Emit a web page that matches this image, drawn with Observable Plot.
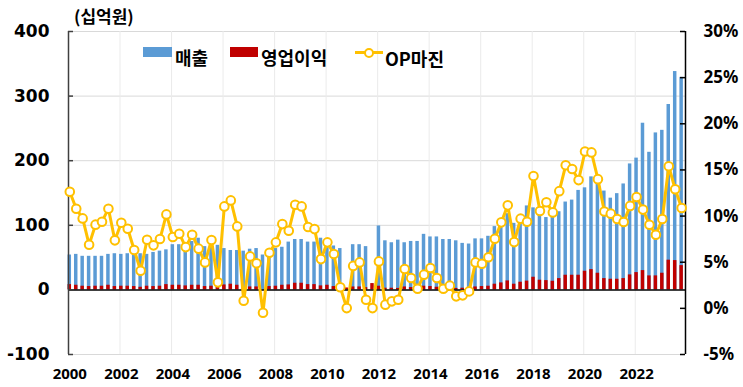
<!DOCTYPE html>
<html><head><meta charset="utf-8">
<script src="https://cdn.jsdelivr.net/npm/d3@7"></script>
<script src="https://cdn.jsdelivr.net/npm/@observablehq/plot@0.6"></script>
<style>
body{margin:0;background:#fff;}
#wrap{position:relative;width:743px;height:387px;font-family:"Noto Sans CJK KR","Noto Sans",sans-serif;}
.ov{position:absolute;white-space:nowrap;font-weight:bold;color:#000;line-height:1;}
.sw{position:absolute;}
</style></head><body>
<div id="wrap"></div>
<script>
// Quarterly data 2000Q1 .. 2023Q4
const sales = [
  54, 55, 52, 52,   52, 52, 55, 56,   55, 56, 55, 56,   55, 58, 60, 62,
  70, 70, 68, 75,   80, 67, 70, 69,   64, 61, 61, 60,   63, 64, 54, 60,
  64, 66, 74, 78,   78, 74, 74, 80,   78, 68, 64, null, 70, 70, 67, null,
  99, 76, 73, 77,   73, 75, 75, 86,   82, 82, 78, 78,   76, 72, 71, 79,
  79, 83, 98, 108,  118, 103, 113, 130, 127, 122, 112, 118, 121, 136, 139, 154,
  158, 175, 165, 153, 142, 149, 164, 195, 204, 258, 213, 243, 247, 287, 338, 329
];
const opIncome = [
  8.2, 7.2, 5.7, 5.2,  5.7, 5.7, 7.2, 5.2,  5.7, 5.7, 5.2, 4.1,  5.7, 5.2, 5.7, 8.2,
  7.2, 7.2, 6.2, 7.2,  7.2, 5.2, 5.7, 4.1,  7.7, 8.8, 7.2, 1.0,  4.6, 4.6, -0.3, 5.2,
  5.7, 7.2, 7.7, 10.3, 10.3, 8.2, 8.2, 6.2, 7.2, 5.2, 4.6, 3.0,  4.6, 4.6, 3.5, 9.8,
  5.7, 2.6, 2.6, 2.3,  4.6, 3.6, 4.6, 5.7,  5.2, 4.1, 3.6, 3.1,  2.3, 2.6, 3.1, 4.6,
  5.2, 5.7, 8.8, 10.8, 13.9, 8.8, 11.9, 13.6, 19.6, 15.0, 14.4, 13.4, 17.5, 22.7, 22.7, 22.7,
  28.9, 31.4, 25.8, 17.5, 16.5, 16.5, 17.5, 23.2, 26.8, 29.9, 21.7, 21.7, 25.8, 46.0, 45.4, 37.6
];
const opMargin = [
  12.64, 10.80, 9.75, 6.90,  9.07, 9.39, 10.80, 7.37,  9.28, 8.63, 6.32, 4.08,
  7.44, 6.83, 7.51, 10.18,   7.73, 8.09, 6.64, 7.98,   6.47, 4.98, 7.40, 2.82,
  11.05, 11.70, 8.88, 0.83,  5.63, 4.88, -0.47, 6.03,  7.15, 9.13, 8.41, 11.23,
  11.05, 8.81, 8.59, 5.34,   7.15, 5.89, 2.28, 0.03,   4.60, 4.98, 0.94, 0.03,
  5.09, 0.40, 0.76, 0.94,    4.26, 3.29, 2.13, 3.65,   4.37, 3.29, 2.13, 2.46,
  1.30, 1.41, 1.84, 4.98,    4.84, 5.53, 7.55, 9.32,   11.16, 7.18, 9.72, 9.39,
  14.35, 10.55, 11.50, 10.40, 12.70, 15.50, 15.10, 13.90, 17.00, 16.90, 14.00, 10.50,
  10.26, 9.68, 9.35, 11.10,  12.06, 10.70, 9.06, 7.98,  9.68, 15.40, 12.90, 10.87
];
const yearLabels = [2000, 2002, 2004, 2006, 2008, 2010, 2012, 2014, 2016, 2018, 2020, 2022];
const leftTicks = [-100, 0, 100, 200, 300, 400];
const rightTicks = [-5, 0, 5, 10, 15, 20, 25, 30];
const unitLabel = "(십억원)";
const seriesNames = ["매출", "영업이익", "OP마진"];

const toLeft = p => (p + 5) * 500 / 35 - 100;
const fromLeft = v => (v + 100) * 35 / 500 - 5;
const rows = sales.map((s, i) => ({i, sales: s, op: opIncome[i], margin: opMargin[i]}));
const X0 = -0.2, X1 = 95.6;
const tickLen = 5 / 6.44;
const hw = 0.27;

const chart = Plot.plot({
  width: 743, height: 387,
  marginLeft: 68, marginRight: 58, marginTop: 31, marginBottom: 33,
  x: {domain: [X0, X1]},
  y: {domain: [-100, 400]},
  style: {fontFamily: "'Noto Sans', sans-serif", background: "white", color: "black"},
  marks: [
    Plot.ruleY([-100, 100, 200, 300, 400], {stroke: "#d9d9d9", strokeWidth: 1}),
    Plot.ruleX(yearLabels.slice(1), {x: y => (y - 2000) * 4 + X0, stroke: "#ebebeb", strokeWidth: 1}),
    Plot.rect(rows.filter(d => d.sales != null), {x1: d => d.i - hw, x2: d => d.i + hw, y1: 0, y2: "sales", fill: "#5B9BD5"}),
    Plot.rect(rows, {x1: d => d.i - hw, x2: d => d.i + hw, y1: 0, y2: "op", fill: "#C00000"}),
    Plot.ruleY([0], {stroke: "#000", strokeWidth: 1.5}),
    Plot.ruleX([X0], {stroke: "#404040", strokeWidth: 1.5}),
    Plot.ruleX([X1], {stroke: "#000", strokeWidth: 1.5}),
    Plot.ruleY(leftTicks, {x1: X0, x2: X0 + tickLen, stroke: "#404040", strokeWidth: 1.5}),
    Plot.ruleY(rightTicks.map(toLeft), {x1: X1 - tickLen, x2: X1, stroke: "#000", strokeWidth: 1.5}),
    Plot.line(rows, {x: "i", y: d => toLeft(d.margin), stroke: "#FFC000", strokeWidth: 3, strokeLinejoin: "round"}),
    Plot.dot(rows, {x: "i", y: d => toLeft(d.margin), r: 4.3, fill: "white", stroke: "#FFC000", strokeWidth: 2}),
    Plot.axisY({anchor: "left", ticks: leftTicks, tickFormat: d => String(d), tickSize: 0, tickPadding: 19,
      fontSize: 17, fontWeight: "bold", fontFamily: "DejaVu Sans", label: null}),
    Plot.axisY({anchor: "right", ticks: rightTicks.map(toLeft), tickFormat: v => Math.round(fromLeft(v)) + "%",
      tickSize: 0, tickPadding: 18, fontSize: 17, fontWeight: "bold", label: null}),
    Plot.axisX({ticks: yearLabels.map(y => (y - 2000) * 4), tickFormat: i => String(2000 + i / 4),
      tickSize: 0, tickPadding: 14, fontSize: 15, fontWeight: "bold", label: null})
  ]
});
const wrap = document.getElementById("wrap");
wrap.appendChild(chart);

function addText(txt, left, top, size) {
  const d = document.createElement("div");
  d.className = "ov"; d.textContent = txt;
  d.style.left = left + "px"; d.style.top = top + "px"; d.style.fontSize = size + "px";
  wrap.appendChild(d); return d;
}
function addBox(left, top, w, h, bg) {
  const d = document.createElement("div");
  d.className = "sw"; d.style.left = left + "px"; d.style.top = top + "px";
  d.style.width = w + "px"; d.style.height = h + "px"; d.style.background = bg;
  wrap.appendChild(d); return d;
}
addText(unitLabel, 74, 7, 17);
addBox(143, 47, 29, 10, "#5B9BD5");
addText(seriesNames[0], 175, 48, 18);
addBox(230, 47, 28, 10, "#C00000");
addText(seriesNames[1], 261, 48, 18);
addBox(355, 51, 28, 3, "#FFC000");
const c = addBox(364, 48, 6, 6, "white");
c.style.border = "2px solid #FFC000"; c.style.borderRadius = "50%";
addText(seriesNames[2], 385, 49, 18);
</script>
</body></html>
